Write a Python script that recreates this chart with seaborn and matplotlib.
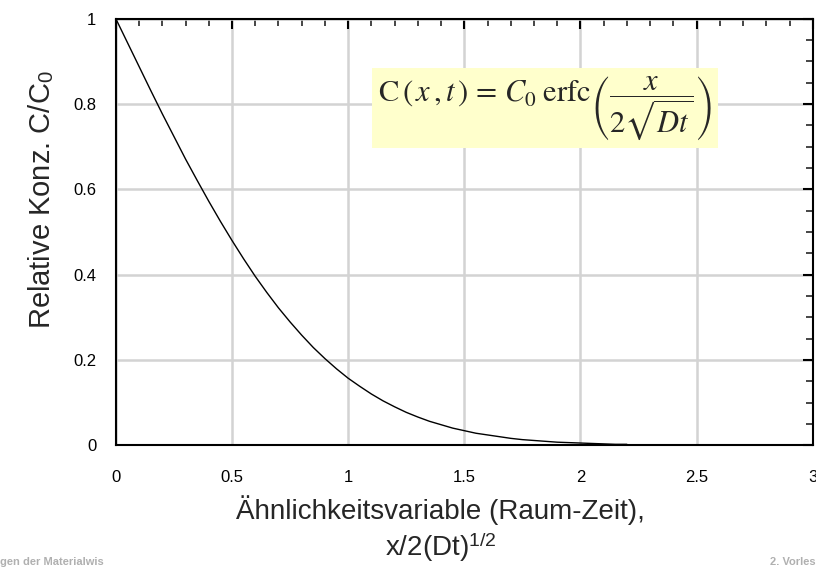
import matplotlib
matplotlib.use("Agg")
import matplotlib.pyplot as plt
from matplotlib.ticker import MultipleLocator
import seaborn as sns
import pandas as pd

# values
x_vals = [0.0, 0.05, 0.1, 0.15, 0.2, 0.25, 0.3, 0.35, 0.4, 0.45, 0.5, 0.55, 0.6, 0.65,
          0.7, 0.75, 0.8, 0.85, 0.9, 0.95, 1.0, 1.05, 1.1, 1.15, 1.2, 1.25, 1.3, 1.35,
          1.4, 1.45, 1.5, 1.55, 1.6, 1.65, 1.7, 1.75, 1.8, 1.85, 1.9, 1.95, 2.0, 2.05,
          2.1, 2.15, 2.2]
c_vals = [1.0, 0.944, 0.888, 0.832, 0.777, 0.724, 0.671, 0.621, 0.572, 0.525, 0.480, 0.437,
          0.396, 0.358, 0.322, 0.289, 0.258, 0.229, 0.203, 0.179, 0.157, 0.138, 0.120, 0.104,
          0.090, 0.077, 0.066, 0.056, 0.048, 0.040, 0.034, 0.028, 0.024, 0.020, 0.016, 0.013,
          0.011, 0.009, 0.007, 0.006, 0.005, 0.004, 0.003, 0.002, 0.002]
x_ticks = [0, 0.5, 1, 1.5, 2, 2.5, 3]
x_tick_labels = ["0", "0.5", "1", "1.5", "2", "2.5", "3"]
y_ticks = [0, 0.2, 0.4, 0.6, 0.8, 1]
y_tick_labels = ["0", "0.2", "0.4", "0.6", "0.8", "1"]

sns.set_style("white")
plt.rcParams['font.family'] = ['Liberation Sans', 'DejaVu Sans']
plt.rcParams['mathtext.fontset'] = 'stix'

df = pd.DataFrame({"x": x_vals, "c": c_vals})

fig = plt.figure(figsize=(8.16, 5.70), dpi=100)
ax = fig.add_axes([0.142, 0.219, 0.854, 0.748])

sns.lineplot(data=df, x="x", y="c", ax=ax, color="black", linewidth=1.0)

ax.set_xlim(0, 3)
ax.set_ylim(0, 1)
ax.set_xticks(x_ticks)
ax.set_xticklabels(x_tick_labels)
ax.set_yticks(y_ticks)
ax.set_yticklabels(y_tick_labels)
ax.xaxis.set_minor_locator(MultipleLocator(0.1))
ax.yaxis.set_minor_locator(MultipleLocator(0.05))
ax.grid(True, which="major", color="#d3d3d3", linewidth=1.8)
ax.set_axisbelow(True)
ax.tick_params(which="major", direction="in", length=7, width=1.5, top=True, right=True,
               labelsize=12, pad=18, colors="black")
ax.tick_params(axis="y", which="major", pad=14)
ax.tick_params(which="minor", direction="in", length=5, width=1.2, top=True, right=True)
for s in ax.spines.values():
    s.set_color("black")
    s.set_linewidth(1.5)
ax.set_xlabel("")
ax.set_ylabel("")

ax.text(1.13, 0.79,
        r"$\mathrm{C}\,(\,x\,,t\,)\,=\,C_0\;\mathrm{erfc}\left(\dfrac{x}{2\sqrt{Dt}}\right)$",
        fontsize=22, ha="left", va="center",
        bbox=dict(boxstyle="square,pad=0.2", facecolor="#ffffcc", edgecolor="none"))

fig.text(0.54, 0.105, "Ähnlichkeitsvariable (Raum-Zeit),", ha="center", va="center", fontsize=20)
fig.text(0.54, 0.04, r"x/2(Dt)$^{\mathregular{1/2}}$", ha="center", va="center", fontsize=20)
fig.text(0.05, 0.65, r"Relative Konz. C/C$_{\mathregular{0}}$", rotation=90, ha="center",
         va="center", fontsize=21)

fig.text(0.0, 0.005, "gen der Materialwis", ha="left", va="bottom", fontsize=8,
         color="#b0b0b0", fontweight="bold")
fig.text(1.0, 0.005, "2. Vorles", ha="right", va="bottom", fontsize=8,
         color="#b0b0b0", fontweight="bold")

fig.savefig("out.png", dpi=100)
